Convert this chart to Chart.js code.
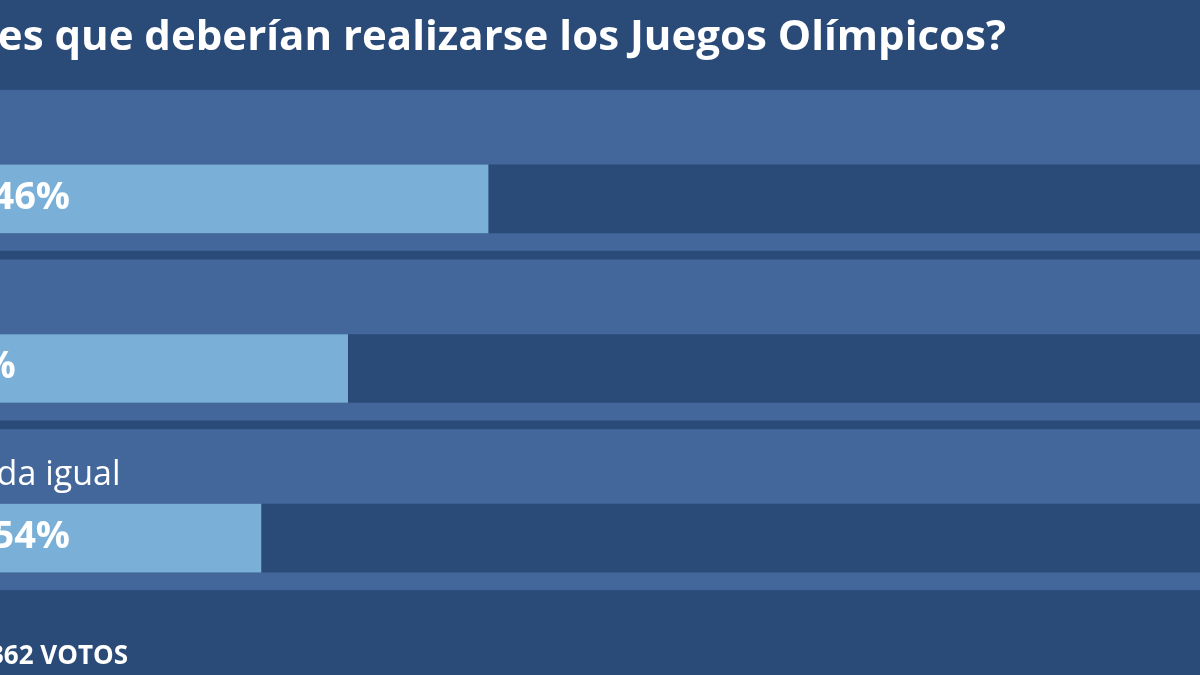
<!DOCTYPE html>
<html lang="es">
<head>
<meta charset="utf-8">
<title>Encuesta Juegos Olímpicos</title>
<script src="https://cdn.jsdelivr.net/npm/chart.js@4.4.1/dist/chart.umd.min.js"></script>
<style>
  html, body { margin: 0; padding: 0; background: #2a4a78; }
  #wrap { width: 1200px; height: 675px; }
</style>
</head>
<body>
<div id="wrap"><canvas id="poll"></canvas></div>
<script>
var question = "¿Crees que deberían realizarse los Juegos Olímpicos?";
var answers = ["Sí", "No", "Me da igual"];
var percents = [42.46, 32, 25.54];
var trackMax = [100, 100, 100];
var totalVotes = "1.362 VOTOS";

function fmtPct(v) {
  return v.toLocaleString('es-ES', { maximumFractionDigits: 2 }) + '%';
}

// background, panels and all the texts of the poll card
var pollDecor = {
  id: 'pollDecor',
  beforeDraw: function(chart) {
    var ctx = chart.ctx;
    ctx.save();
    ctx.fillStyle = '#2a4a78';
    ctx.fillRect(0, 0, chart.width, chart.height);
    ctx.restore();
  },
  beforeDatasetsDraw: function(chart) {
    var ctx = chart.ctx, y = chart.scales.y;
    ctx.save();
    ctx.fillStyle = '#43679b';
    answers.forEach(function(a, i) {
      var cy = y.getPixelForValue(i);
      ctx.fillRect(0, cy - 109, chart.width, 161);
    });
    ctx.restore();
  },
  afterDatasetsDraw: function(chart) {
    var ctx = chart.ctx, x = chart.scales.x, y = chart.scales.y;
    var left = x.getPixelForValue(0) + 26;
    ctx.save();
    ctx.fillStyle = '#ffffff';

    // title is cut on the left like in the original crop
    ctx.font = 'bold 42px "Open Sans"';
    ctx.textAlign = 'right';
    ctx.textBaseline = 'alphabetic';
    ctx.fillText(question, 1006, 50);

    ctx.textAlign = 'left';
    answers.forEach(function(a, i) {
      var cy = y.getPixelForValue(i);
      ctx.font = '34px "Open Sans"';
      ctx.textBaseline = 'alphabetic';
      ctx.fillText(a, left - 6, cy - 53);
      ctx.font = 'bold 38px "Open Sans"';
      ctx.textBaseline = 'middle';
      ctx.fillText(fmtPct(percents[i]), left - 6, cy - 1);
    });

    ctx.font = 'bold 26px "Open Sans"';
    ctx.textAlign = 'right';
    ctx.textBaseline = 'alphabetic';
    ctx.fillText(totalVotes, 128, 664);
    ctx.restore();
  }
};

new Chart(document.getElementById('poll'), {
  type: 'bar',
  data: {
    labels: answers,
    datasets: [
      {
        label: 'Votos',
        data: percents,
        backgroundColor: '#7ab0d8',
        barThickness: 68,
        grouped: false,
        order: 1
      },
      {
        label: 'Total',
        data: trackMax,
        backgroundColor: '#2a4a78',
        barThickness: 68,
        grouped: false,
        order: 2
      }
    ]
  },
  options: {
    indexAxis: 'y',
    responsive: true,
    maintainAspectRatio: false,
    animation: false,
    layout: { padding: { top: 114, bottom: 52, left: 0, right: 0 } },
    scales: {
      x: { display: false, min: 6.1, max: 95.5 },
      y: { display: false }
    },
    plugins: {
      legend: { display: false },
      title: { display: false },
      tooltip: { enabled: false }
    }
  },
  plugins: [pollDecor]
});
</script>
</body>
</html>
